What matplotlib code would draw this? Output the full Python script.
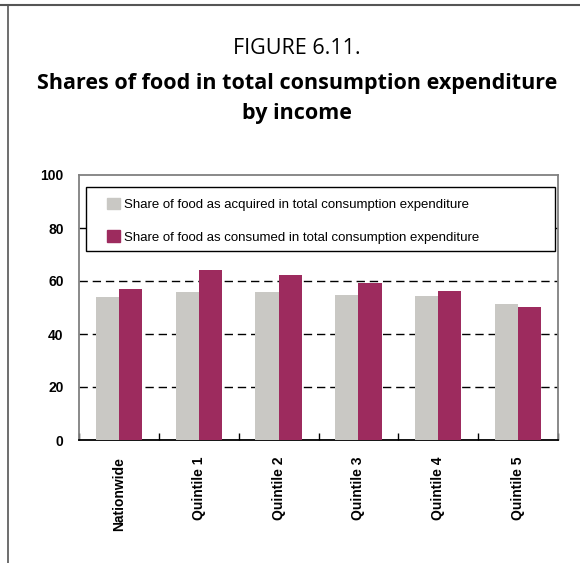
import matplotlib
matplotlib.use("Agg")
import matplotlib.pyplot as plt
import matplotlib.patches as mpatches
from matplotlib.lines import Line2D
import numpy as np

categories = ["Nationwide", "Quintile 1", "Quintile 2", "Quintile 3", "Quintile 4", "Quintile 5"]
acquired = [54.1, 55.8, 55.8, 54.7, 54.3, 51.3]
consumed = [57.0, 64.2, 62.3, 59.2, 56.2, 50.2]
series_labels = [
    "Share of food as acquired in total consumption expenditure",
    "Share of food as consumed in total consumption expenditure",
]
y_ticks = [0, 20, 40, 60, 80, 100]

GRAY = "#C9C8C4"
MAROON = "#9D2B5E"

fig = plt.figure(figsize=(5.8, 5.63), dpi=100)

# outer frame (top and left edges only)
fig.add_artist(Line2D([0, 1], [1 - 5 / 563, 1 - 5 / 563], color="#555555", lw=1.5, transform=fig.transFigure))
fig.add_artist(Line2D([8 / 580, 8 / 580], [0, 1 - 5 / 563], color="#555555", lw=1.2, transform=fig.transFigure))

fig.text(0.512, 1 - 48 / 563, "FIGURE 6.11.", ha="center", va="center",
         fontsize=15.5, family="Open Sans")
fig.text(0.512, 1 - 84 / 563, "Shares of food in total consumption expenditure", ha="center",
         va="center", fontsize=15.5, fontweight="bold", family="Open Sans")
fig.text(0.512, 1 - 113 / 563, "by income", ha="center", va="center",
         fontsize=15.5, fontweight="bold", family="Open Sans")

ax = fig.add_axes([79 / 580, 1 - 440 / 563, 479 / 580, 265 / 563])
x = np.arange(len(categories))
w = 0.29
ax.bar(x - w / 2, acquired, width=w, color=GRAY, zorder=3)
ax.bar(x + w / 2, consumed, width=w, color=MAROON, zorder=3)

ax.set_xlim(-0.5, len(categories) - 0.5)
ax.set_ylim(0, 100)
ax.set_yticks(y_ticks)
ax.set_yticklabels([str(t) for t in y_ticks], fontsize=10, fontweight="bold", family="Liberation Sans")
ax.tick_params(axis="y", length=0, pad=11)

ax.set_xticks(x)
ax.set_xticklabels(categories, rotation=90, fontsize=10, fontweight="bold", family="Liberation Sans")
ax.tick_params(axis="x", length=0, pad=12)
ax.set_xticks(np.arange(len(categories) + 1) - 0.5, minor=True)
ax.tick_params(axis="x", which="minor", direction="in", length=5, width=1, color="black")

for t in y_ticks[1:-1]:
    ax.axhline(t, color="black", lw=1, ls=(0, (6, 3.5)), zorder=1)

for side in ["left", "top", "right"]:
    ax.spines[side].set_color("#808080")
    ax.spines[side].set_linewidth(1.3)
ax.spines["bottom"].set_color("black")
ax.spines["bottom"].set_linewidth(1.3)

# legend box drawn by hand, legend entries placed inside it
box = mpatches.Rectangle((7 / 479, 1 - 76 / 265), 469 / 479, 64 / 265, transform=ax.transAxes,
                         facecolor="white", edgecolor="black", lw=1.0, zorder=4)
ax.add_patch(box)
handles = [mpatches.Patch(color=GRAY, label=series_labels[0]),
           mpatches.Patch(color=MAROON, label=series_labels[1])]
leg = ax.legend(handles=handles, loc="upper left", bbox_to_anchor=(28 / 479, 1 - 23 / 265),
                frameon=False, prop={"family": "Liberation Sans", "size": 9.5},
                handlelength=0.95, handleheight=0.95, handletextpad=0.35,
                labelspacing=1.45, borderpad=0, borderaxespad=0)
leg.set_zorder(5)

fig.savefig("out.png", dpi=100)
